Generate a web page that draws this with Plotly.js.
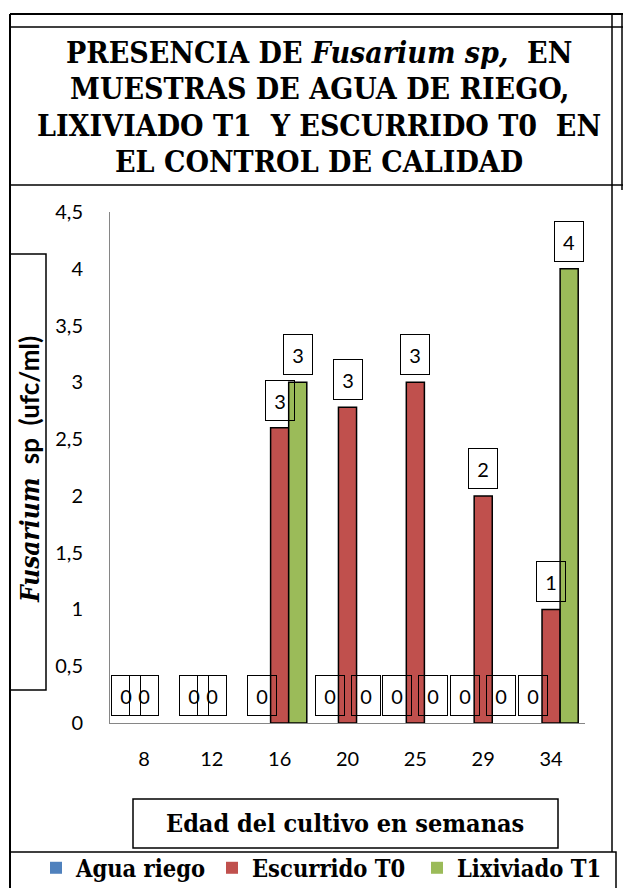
<!DOCTYPE html>
<html><head><meta charset="utf-8">
<script src="https://cdn.plot.ly/plotly-3.0.1.min.js"></script>
<style>html,body{margin:0;padding:0;background:#fff}#chart{width:623px;height:888px}</style>
</head><body><div id="chart"></div>
<script>
// ---- data ----
const weeks = ['8','12','16','20','25','29','34'];
const aguaRiego = [0,0,0,0,0,0,0];
const escurridoT0 = [0,0,2.6,2.78,3,2,1];
const lixiviadoT1 = [null,null,3,0,0,0,4];
const seriesNames = ['Agua riego','Escurrido T0','Lixiviado T1'];
const yTicks = [0,0.5,1,1.5,2,2.5,3,3.5,4,4.5];
const titleLines = ['PRESENCIA DE <i>Fusarium sp,</i>\u00A0 EN','MUESTRAS DE AGUA DE RIEGO,','LIXIVIADO T1\u00A0 Y ESCURRIDO T0\u00A0 EN','EL CONTROL DE CALIDAD'];
const xTitle = 'Edad del cultivo en semanas';

// ---- geometry helpers (pixel -> paper) ----
const W=623,H=888,L=110,R=585,T=212,B=723;
const px = x => (x-L)/(R-L);
const py = y => (B-y)/(B-T);

const colors = ['#4F81BD','#C0504D','#9BBB59'];
const outlined = [false,true,true];
const legendW = [131,160,150];
const allSeries = [aguaRiego, escurridoT0, lixiviadoT1];

const traces = allSeries.map((vals,k)=>({
  type:'bar', name:seriesNames[k], x:weeks, y:vals, legendwidth:legendW[k],
  marker:{color:colors[k], line:{color:'#000', width:vals.map(v=>(outlined[k] && v>0)?1.5:0)}},
  hoverinfo:'x+y'
}));

const serif = 'DejaVu Serif Condensed, DejaVu Serif';
const annotations = [];
const offsets = [-18,0,18];
allSeries.forEach((vals,k)=>{
  vals.forEach((v,i)=>{
    if(v===null) return;
    annotations.push({x:i, y:v, xref:'x', yref:'y', xshift:offsets[k], yshift:7,
      yanchor:'bottom', xanchor:'center', showarrow:false, text:String(Math.round(v)),
      width:28, height:39, bordercolor:'#000', borderwidth:1, borderpad:0,
      font:{family:'Lato', size:20, color:'#000'}});
  });
});
const titleY = [53,89,126,162];
titleLines.forEach((t,i)=>{
  annotations.push({xref:'paper', yref:'paper', x:px(319), y:py(titleY[i]), xanchor:'center', yanchor:'middle',
    showarrow:false, text:'<b>'+t+'</b>', font:{family:serif, size:30, color:'#000'}});
});
annotations.push({xref:'paper', yref:'paper', x:px(345), y:py(823), xanchor:'center', yanchor:'middle',
  showarrow:false, text:'<b>'+xTitle+'</b>', font:{family:serif, size:25, color:'#000'}});
annotations.push({xref:'paper', yref:'paper', x:px(29), y:py(470), xanchor:'center', yanchor:'middle', textangle:-90,
  showarrow:false, text:"<span style='font-family:DejaVu Serif Condensed, DejaVu Serif'><b><i>Fusarium</i></b></span>\u00A0\u00A0<b>sp\u00A0 (ufc/ml)</b>",
  font:{family:'Lato', size:26, color:'#000'}});

const line = (x0,y0,x1,y1,w)=>({type:'line', xref:'paper', yref:'paper', x0:px(x0), y0:py(y0), x1:px(x1), y1:py(y1), line:{color:'#000', width:w||2}});
const rect = (x0,y0,x1,y1,w)=>({type:'rect', xref:'paper', yref:'paper', x0:px(x0), y0:py(y0), x1:px(x1), y1:py(y1), line:{color:'#000', width:w||2}, fillcolor:'rgba(0,0,0,0)'});
const shapes = [
  line(10,14,623,14), line(10,27,623,27,1.5), line(10,185,623,185,1.5),
  line(10,14,10,888), line(612,14,612,852,1.5), line(622,14,622,190,1.5),
  rect(46,254,10,690,1.5),
  rect(133,799,558,848,1.5),
  rect(10,852,616,895,1.5)
];

const layout = {
  width:W, height:H, margin:{l:L, r:W-R, t:T, b:H-B, pad:0, autoexpand:false},
  paper_bgcolor:'#fff', plot_bgcolor:'#fff', separators:', ',
  barmode:'group', bargap:0.2, bargroupgap:0,
  showlegend:true,
  legend:{orientation:'h', x:px(36), xanchor:'left', y:py(846), yanchor:'top',
    font:{family:serif, size:23.5, color:'#000', weight:700}, bgcolor:'rgba(0,0,0,0)', borderwidth:0},
  xaxis:{type:'category', range:[-0.5,6.5], autorange:false, showline:true, linecolor:'#868686', linewidth:1, ticks:'', showgrid:false, zeroline:false,
    tickfont:{family:'Lato', size:20, color:'#000'}, ticklabelstandoff:18},
  yaxis:{range:[0,4.5], autorange:false, tickvals:yTicks, showline:true, linecolor:'#868686', linewidth:1, ticks:'', showgrid:false, zeroline:false,
    tickfont:{family:'Lato', size:20, color:'#000'}, ticklabelstandoff:22},
  shapes:shapes, annotations:annotations
};
Plotly.newPlot('chart', traces, layout, {displayModeBar:false, staticPlot:true});
</script></body></html>
